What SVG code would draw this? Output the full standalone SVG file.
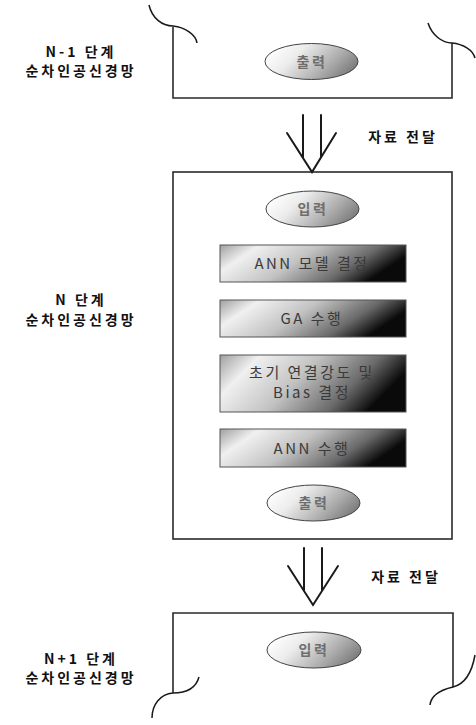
<svg xmlns="http://www.w3.org/2000/svg" width="476" height="725" viewBox="0 0 476 725">
<style>
.frame{fill:none;stroke:#2a2a2a;stroke-width:1.6}
.wave{fill:none;stroke:#1a1a1a;stroke-width:1.5}
.arrow{fill:none;stroke:#1a1a1a;stroke-width:2;stroke-linecap:round;stroke-linejoin:miter}
.lbl{font-family:"Noto Sans CJK KR","Noto Sans",sans-serif;font-weight:bold;font-size:14px;fill:#111;text-anchor:middle;letter-spacing:3px}
.boxtxt{font-family:"Noto Sans CJK KR","Noto Sans",sans-serif;font-size:15px;fill:#3a3a3a;text-anchor:middle;letter-spacing:2.5px}
.elltxt{font-family:"Noto Sans CJK KR","Noto Sans",sans-serif;font-weight:bold;font-size:14px;fill:#6e6e6e;text-anchor:middle;letter-spacing:2.5px}
.step{fill:url(#gRect);stroke:#555;stroke-width:1}
.ell{fill:url(#gEll);stroke:#444;stroke-width:1}
</style>
<defs>
<linearGradient id="gRect" x1="0" y1="0" x2="1" y2="0.3">
<stop offset="0" stop-color="#a0a0a0"/>
<stop offset="0.2" stop-color="#f0f0f0"/>
<stop offset="0.5" stop-color="#c2c2c2"/>
<stop offset="0.8" stop-color="#6a6a6a"/>
<stop offset="1" stop-color="#0a0a0a"/>
</linearGradient>
<linearGradient id="gEll" x1="0" y1="0.3" x2="1" y2="0.7">
<stop offset="0" stop-color="#ffffff"/>
<stop offset="0.3" stop-color="#ececec"/>
<stop offset="0.7" stop-color="#acacac"/>
<stop offset="1" stop-color="#767676"/>
</linearGradient>
</defs>
<rect width="476" height="725" fill="#fff"/>

<g id="stage-n-1">
<path class="frame" d="M173,27 V98 H452 V43"/>
<path class="wave" d="M149,5 C152,18 162,26 173,26 C185,27 196,35 197,43"/>
<path class="wave" d="M428,23 C432,35 442,43 452,43 C463,44 473,50 475,58"/>
<text class="lbl" x="81" y="57">N-1 단계</text>
<text class="lbl" x="81" y="76">순차인공신경망</text>
</g>
<g id="out-top">
<ellipse class="ell" cx="311.5" cy="61.5" rx="46.5" ry="18"/>
<text class="elltxt" x="312" y="66.5">출력</text>
</g>

<g id="stage-n">
<rect class="frame" x="173" y="172" width="279" height="367"/>
<text class="lbl" x="81" y="305">N 단계</text>
<text class="lbl" x="81" y="325">순차인공신경망</text>
</g>
<g id="in-mid">
<ellipse class="ell" cx="312.5" cy="209" rx="46.5" ry="18"/>
<text class="elltxt" x="313" y="214">입력</text>
</g>
<g id="step1">
<rect class="step" x="220" y="245" width="186" height="37"/>
<text class="boxtxt" x="312" y="269">ANN 모델 결정</text>
</g>
<g id="step2">
<rect class="step" x="220" y="300" width="186" height="37"/>
<text class="boxtxt" x="312" y="324">GA 수행</text>
</g>
<g id="step3">
<rect class="step" x="220" y="355" width="186" height="57"/>
<text class="boxtxt" x="312" y="378">초기 연결강도 및</text>
<text class="boxtxt" x="312" y="398">Bias 결정</text>
</g>
<g id="step4">
<rect class="step" x="220" y="429" width="186" height="38"/>
<text class="boxtxt" x="312" y="453.5">ANN 수행</text>
</g>
<g id="out-mid">
<ellipse class="ell" cx="313.5" cy="503" rx="46.5" ry="18"/>
<text class="elltxt" x="314" y="508">출력</text>
</g>

<g id="stage-n1">
<path class="frame" d="M173,693 V613 H453 V687"/>
<path class="wave" d="M199,677 C196,688 186,693 173,693 C160,694 152,705 152,718"/>
<path class="wave" d="M475,655 C472,672 465,684 453,687 C440,690 431,696 430,705"/>
<text class="lbl" x="81" y="664">N+1 단계</text>
<text class="lbl" x="81" y="683">순차인공신경망</text>
</g>
<g id="in-bot">
<ellipse class="ell" cx="314" cy="650" rx="47" ry="18"/>
<text class="elltxt" x="314" y="655">입력</text>
</g>

<g id="connectors">
<path class="arrow" d="M303,115 V157 M321,115 V157 M287,133 L312,172 L336,133"/>
<path class="arrow" d="M304,548 V590 M322,548 V590 M288,566 L313,605 L338,566"/>
<text class="lbl" x="403" y="142">자료 전달</text>
<text class="lbl" x="406" y="582">자료 전달</text>
</g>
</svg>
